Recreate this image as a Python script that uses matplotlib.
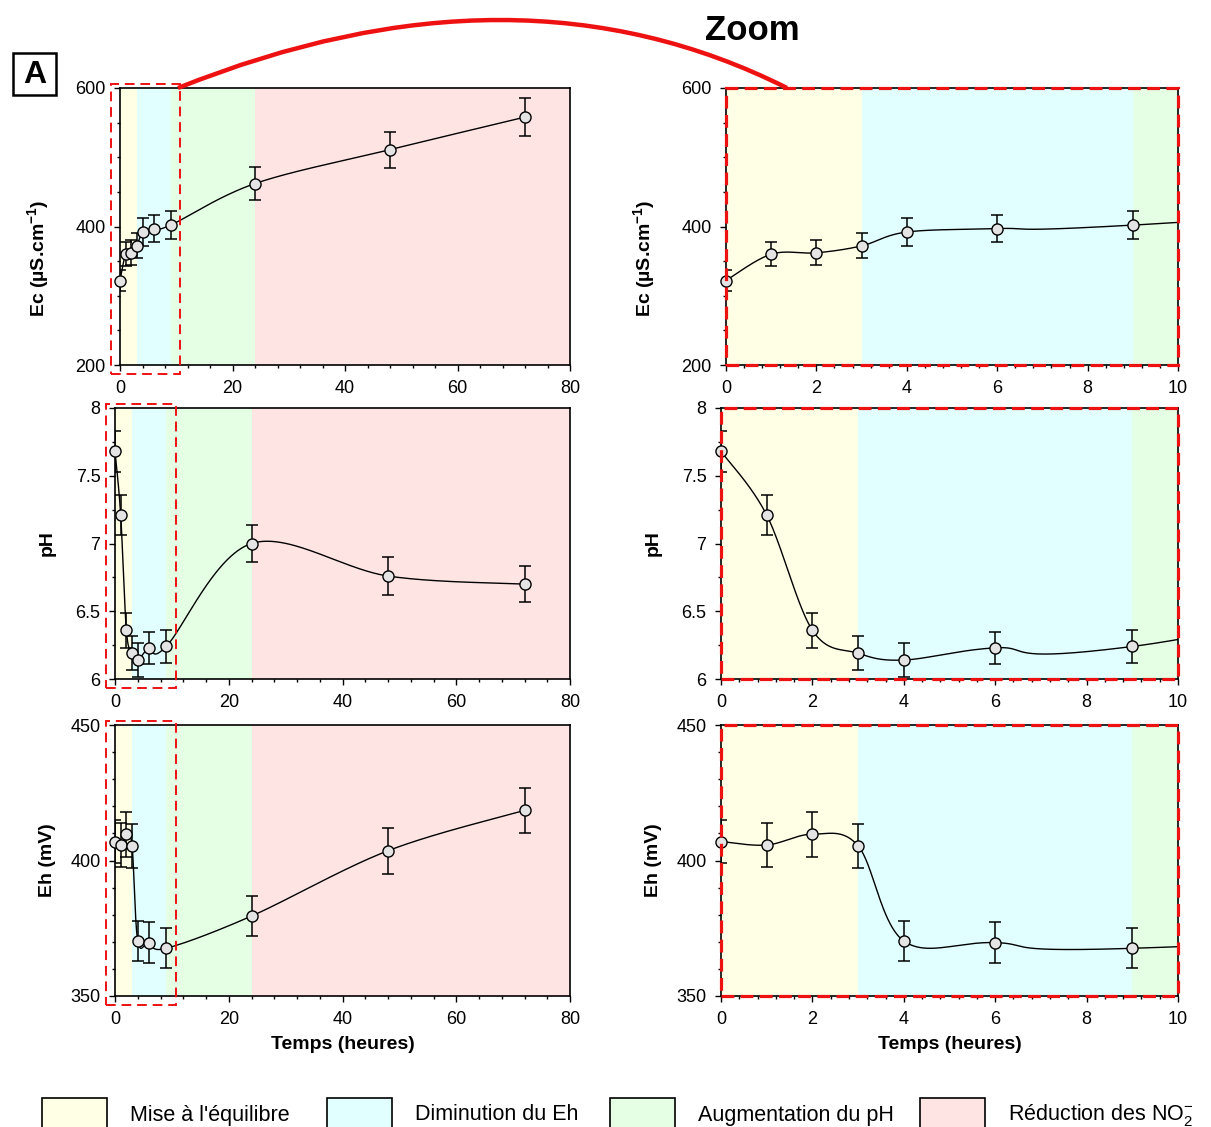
import numpy as np
import matplotlib.pyplot as plt
import matplotlib.transforms as mtrans
from matplotlib.patches import Rectangle, PathPatch
from matplotlib.path import Path
from matplotlib.ticker import MultipleLocator

plt.rcParams['font.family'] = ['Liberation Sans', 'DejaVu Sans']
plt.rcParams['mathtext.fontset'] = 'custom'
plt.rcParams['mathtext.rm'] = 'Liberation Sans'
plt.rcParams['mathtext.bf'] = 'Liberation Sans:bold'
plt.rcParams['mathtext.it'] = 'Liberation Sans:italic'

# donnees
temps = [0, 1, 2, 3, 4, 6, 9, 24, 48, 72]
ec = [322, 360, 362, 372, 392, 397, 402, 462, 511, 558]
ec_err = [15, 17, 18, 18, 20, 19, 20, 24, 26, 28]
ph = [7.68, 7.21, 6.36, 6.19, 6.14, 6.23, 6.24, 7.0, 6.76, 6.70]
ph_err = [0.15, 0.145, 0.13, 0.125, 0.125, 0.12, 0.125, 0.14, 0.14, 0.135]
eh = [407, 405.7, 409.7, 405.4, 370.3, 369.7, 367.6, 379.5, 403.6, 418.5]
eh_err = [8, 8, 8.3, 8.2, 7.5, 7.5, 7.4, 7.4, 8.5, 8.3]

phases = ["Mise à l'équilibre", "Diminution du Eh", "Augmentation du pH",
          r"Réduction des NO$_2^{-}$"]
phase_bounds = [0, 3, 9, 24, 80]
phase_colors = ['#ffffe6', '#e2ffff', '#e5ffe5', '#ffe4e4']


def smooth(x, y, n=80):
    # courbe lissee type tableur (bezier, tangentes (P[i+1]-P[i-1])/6)
    P = np.column_stack([x, y]).astype(float)
    out = [P[:1]]
    t = np.linspace(0, 1, n)[1:, None]
    for i in range(len(P) - 1):
        p0, p3 = P[i], P[i + 1]
        pm = P[i - 1] if i > 0 else P[i]
        pp = P[i + 2] if i + 2 < len(P) else P[i + 1]
        c1 = p0 + (p3 - pm) / 6
        c2 = p3 - (pp - p0) / 6
        out.append((1 - t)**3 * p0 + 3 * (1 - t)**2 * t * c1
                   + 3 * (1 - t) * t**2 * c2 + t**3 * p3)
    out = np.vstack(out)
    return out[:, 0], out[:, 1]


W, H = 1211, 1127
fig = plt.figure(figsize=(W / 100, H / 100), dpi=100)


def box(x0, x1, ytop, ybot):
    return [x0 / W, 1 - ybot / H, (x1 - x0) / W, (ybot - ytop) / H]


rows = [
    (ec, ec_err, r'Ec (µS.cm$^{\mathbf{-1}}$)', (200, 600), 200, 50, 88, 365, 120, 726),
    (ph, ph_err, 'pH', (6, 8), 0.5, 0.25, 408, 679, 115, 721),
    (eh, eh_err, 'Eh (mV)', (350, 450), 50, 10, 725, 996, 115, 721),
]
label_pos = [(-0.153, 0.386), (-0.13, 0.5), (-0.13, 0.5)]

for r, (vals, errs, lab, ylim, maj, mino, yt, yb, xl, xr) in enumerate(rows):
    for side in range(2):
        if side == 0:
            ax = fig.add_axes(box(xl, 570, yt, yb))
            xmax, xmaj, xmin = 80, 20, 4
        else:
            ax = fig.add_axes(box(xr, 1178, yt, yb))
            xmax, xmaj, xmin = 10, 2, 0.4
        for i in range(4):
            ax.axvspan(phase_bounds[i], phase_bounds[i + 1], color=phase_colors[i],
                       lw=0, zorder=0)
        sx, sy = smooth(temps, vals)
        ax.plot(sx, sy, color='black', lw=1, zorder=2)
        ax.errorbar(temps, vals, yerr=errs, fmt='none', ecolor='black',
                    elinewidth=1.1, capsize=4, capthick=1.1, zorder=3)
        ax.plot(temps, vals, 'o', ms=8, mfc='#e4e4e4', mec='black', mew=1,
                zorder=4, clip_on=False)
        ax.set_xlim(0, xmax)
        ax.set_ylim(*ylim)
        ax.xaxis.set_major_locator(MultipleLocator(xmaj))
        ax.xaxis.set_minor_locator(MultipleLocator(xmin))
        ax.yaxis.set_major_locator(MultipleLocator(maj))
        ax.yaxis.set_minor_locator(MultipleLocator(mino))
        ax.yaxis.set_major_formatter(plt.FuncFormatter(lambda v, p: f'{v:g}'))
        ax.tick_params(which='major', direction='out', length=4.5, width=1,
                       labelsize=13, pad=6)
        ax.tick_params(which='minor', direction='out', length=2.5, width=1)
        for s in ax.spines.values():
            s.set_linewidth(1.2)
        ax.set_ylabel(lab, fontsize=14, fontweight='bold')
        ax.yaxis.set_label_coords(*label_pos[r])
        if r == 2:
            ax.set_xlabel('Temps (heures)', fontsize=14, fontweight='bold', labelpad=6)

        if side == 0:
            tr = mtrans.blended_transform_factory(ax.transData, ax.transAxes)
            ax.add_patch(Rectangle((-1.6, -0.032), 12.3, 1.046, transform=tr,
                                   fill=False, ec='#ee1111', lw=1.4,
                                   ls=(0, (5, 3)), clip_on=False, zorder=6))
        else:
            ax.add_patch(Rectangle((0, 0), 1, 1, transform=ax.transAxes,
                                   fill=False, ec='#ee1111', lw=2.3,
                                   ls=(0, (4, 2)), clip_on=False, zorder=6))

# arc rouge "Zoom"
p0 = (178 / W, 1 - 88 / H)
c = (517 / W, 1 + 48 / H)
p1 = (787 / W, 1 - 88 / H)
arc = PathPatch(Path([p0, c, p1], [Path.MOVETO, Path.CURVE3, Path.CURVE3]),
                transform=fig.transFigure, fill=False, ec='#ee1111', lw=3.2)
fig.add_artist(arc)
fig.text(752 / W, 1 - 31 / H, 'Zoom', fontsize=25, fontweight='bold',
         ha='center', va='center')

# lettre A encadree
fig.add_artist(Rectangle((13 / W, 1 - 95 / H), 43 / W, 42 / H,
                         transform=fig.transFigure, fc='white', ec='black', lw=1.8))
fig.text(34.5 / W, 1 - 75 / H, 'A', fontsize=23, fontweight='bold',
         ha='center', va='center')

# legende
leg_x = [42, 327, 610, 920]
for i in range(4):
    fig.add_artist(Rectangle((leg_x[i] / W, 1 - 1128 / H), 65 / W, 30 / H,
                             transform=fig.transFigure, fc=phase_colors[i],
                             ec='black', lw=1.2))
    fig.text((leg_x[i] + 88) / W, 1 - 1115 / H, phases[i], fontsize=15.5,
             ha='left', va='center')

fig.savefig('out.png', dpi=100)
